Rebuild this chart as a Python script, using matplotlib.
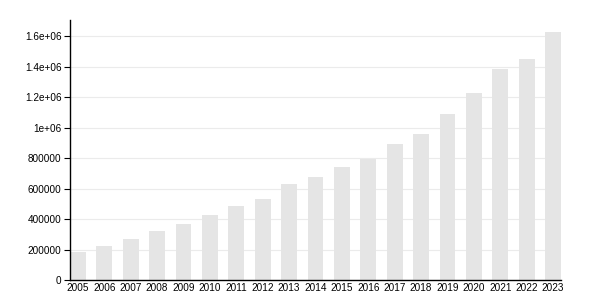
import matplotlib; matplotlib.use("Agg")
import matplotlib.pyplot as plt
from matplotlib.ticker import FuncFormatter

years = [str(y) for y in range(2005, 2024)]
values = [184000, 223000, 269000, 321000, 367000, 426000, 485000, 529000,
          630000, 673000, 739000, 796000, 892000, 955000, 1087000, 1224000,
          1382000, 1447000, 1628000]
yticks = [0, 200000, 400000, 600000, 800000, 1000000, 1200000, 1400000, 1600000]

plt.rcParams['font.family'] = ['Liberation Sans', 'DejaVu Sans']

fig = plt.figure(figsize=(6, 3), dpi=100)
ax = fig.add_axes([70 / 600, 20 / 300, 491 / 600, 260 / 300])
x = list(range(len(years)))
ax.bar(x, values, width=0.6, color="#e5e5e5", zorder=2)
ax.set_xlim(-0.3, len(years) - 0.7)
ax.set_ylim(0, 1705000)
ax.set_xticks(x)
ax.set_xticklabels(years)
ax.set_yticks(yticks)
ax.yaxis.set_major_formatter(FuncFormatter(lambda v, p: "%g" % v))
ax.grid(axis="y", color="#ebebeb", linewidth=0.8, zorder=0)
ax.tick_params(axis="x", length=0, pad=2, labelsize=7.2)
ax.tick_params(axis="y", length=4, width=0.8, pad=2, labelsize=7.2)
for s in ("top", "right"):
    ax.spines[s].set_visible(False)
for s in ("left", "bottom"):
    ax.spines[s].set_linewidth(1)
fig.savefig("out.png", dpi=100)
